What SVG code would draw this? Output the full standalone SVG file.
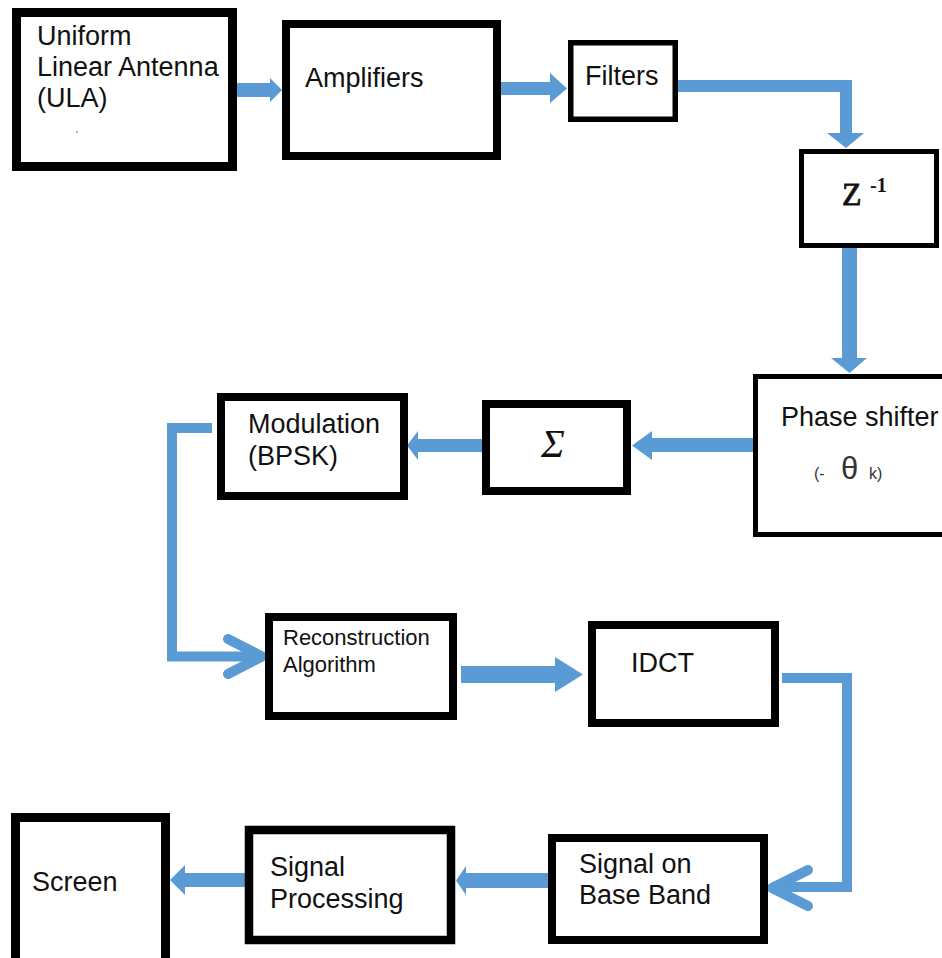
<svg xmlns="http://www.w3.org/2000/svg" width="942" height="958" viewBox="0 0 942 958">
<style>
.box{fill:#fff;stroke:#000}
.t{font-family:"Liberation Sans",Arial,sans-serif;font-size:27px;fill:#111}
.s{font-family:"Liberation Sans",Arial,sans-serif;font-size:22px;fill:#111}
.ar{fill:#5B9BD5}
.ln{fill:none;stroke:#5B9BD5;stroke-width:10;stroke-linejoin:miter}
.chev{fill:none;stroke:#5B9BD5;stroke-width:10;stroke-linecap:round;stroke-linejoin:round}
</style>
<rect width="942" height="958" fill="#fff"/>
<g id="connectors">
  <polygon class="ar" points="237,83 270,83 270,78 282,90 270,102 270,97 237,97"/>
  <polygon class="ar" points="501,82 550,82 550,73 567,88.5 550,103 550,95 501,95"/>
  <polygon class="ar" points="678,80 852,80 852,133 864,133 846,148 827,133 840,133 840,92 678,92"/>
  <polygon class="ar" points="842,248 857,248 857,358 867,358 849.5,373 831,358 842,358"/>
  <polygon class="ar" points="753,438 652,438 652,431 632,445.5 652,460 652,452 753,452"/>
  <polygon class="ar" points="482,439 418,439 418,431 407,445.5 418,460 418,452 482,452"/>
  <polyline class="ln" points="212,428 172,428 172,656.5 262,656.5"/>
  <polyline class="chev" points="228,639 262,656.5 228,674"/>
  <polygon class="ar" points="461,666 555,666 555,657 583,674.5 555,692 555,683 461,683"/>
  <polyline class="ln" points="782,678 847,678 847,887 772,887"/>
  <polyline class="chev" points="808,870 772,888 808,906"/>
  <polygon class="ar" points="548,873 466,873 466,866 456,880.5 466,895 466,888 548,888"/>
  <polygon class="ar" points="245,873 185,873 185,865 170,880 185,895 185,887 245,887"/>
</g>
<g id="ula">
  <rect class="box" x="16.5" y="12.5" width="216" height="154" stroke-width="9"/>
  <text class="t" x="37" y="45">Uniform</text>
  <text class="t" x="37" y="76">Linear Antenna</text>
  <text class="t" x="37" y="107">(ULA)</text>
  <circle cx="77" cy="132" r="1" fill="#999"/>
</g>
<g id="amplifiers">
  <rect class="box" x="286" y="24" width="211" height="132" stroke-width="8"/>
  <text class="t" x="305" y="87">Amplifiers</text>
</g>
<g id="filters">
  <rect class="box" x="570.75" y="42.75" width="104.5" height="76.5" stroke-width="5.5"/>
  <text class="t" x="585" y="85">Filters</text>
</g>
<g id="zinv">
  <rect class="box" x="801.5" y="151.5" width="135" height="94" stroke-width="5"/>
  <text x="842" y="205" font-family="'Liberation Serif','DejaVu Serif',serif" font-size="32" fill="#111" stroke="#111" stroke-width="0.8">Z</text>
  <text x="870" y="192" font-family="'Liberation Serif','DejaVu Serif',serif" font-size="20" font-weight="bold" fill="#111">-1</text>
</g>
<g id="phase">
  <rect class="box" x="755.5" y="376.5" width="190" height="158" stroke-width="5"/>
  <text class="t" x="781" y="426">Phase shifter</text>
  <text x="814" y="479" font-family="'Liberation Sans',Arial,sans-serif" font-size="16" fill="#333">(-</text>
  <text x="841" y="479" font-family="'Liberation Sans',Arial,sans-serif" font-size="31" fill="#333">θ</text>
  <text x="869" y="479" font-family="'Liberation Sans',Arial,sans-serif" font-size="16" fill="#333">k)</text>
</g>
<g id="sum">
  <rect class="box" x="486" y="404" width="141" height="87" stroke-width="8"/>
  <text x="553" y="457" text-anchor="middle" font-family="'Liberation Serif','DejaVu Serif',serif" font-style="italic" font-size="40" fill="#111">Σ</text>
</g>
<g id="modulation">
  <rect class="box" x="221" y="397" width="183" height="99" stroke-width="8"/>
  <text class="t" x="248" y="433">Modulation</text>
  <text class="t" x="248" y="465">(BPSK)</text>
</g>
<g id="reconstruction">
  <rect class="box" x="269" y="617" width="184" height="99" stroke-width="8"/>
  <text class="s" x="283" y="645">Reconstruction</text>
  <text class="s" x="283" y="672">Algorithm</text>
</g>
<g id="idct">
  <rect class="box" x="592" y="625" width="183" height="98" stroke-width="8"/>
  <text class="t" x="631" y="672">IDCT</text>
</g>
<g id="baseband">
  <rect class="box" x="552" y="838" width="212" height="102" stroke-width="8"/>
  <text class="t" x="579" y="873">Signal on</text>
  <text class="t" x="579" y="904">Base Band</text>
</g>
<g id="processing">
  <rect class="box" x="249" y="830" width="202" height="110" stroke-width="8.5"/>
  <text class="t" x="270" y="876">Signal</text>
  <text class="t" x="270" y="908">Processing</text>
</g>
<g id="screen">
  <rect class="box" x="15.5" y="817.5" width="150" height="160" stroke-width="9"/>
  <text class="t" x="32" y="891">Screen</text>
</g>
</svg>
